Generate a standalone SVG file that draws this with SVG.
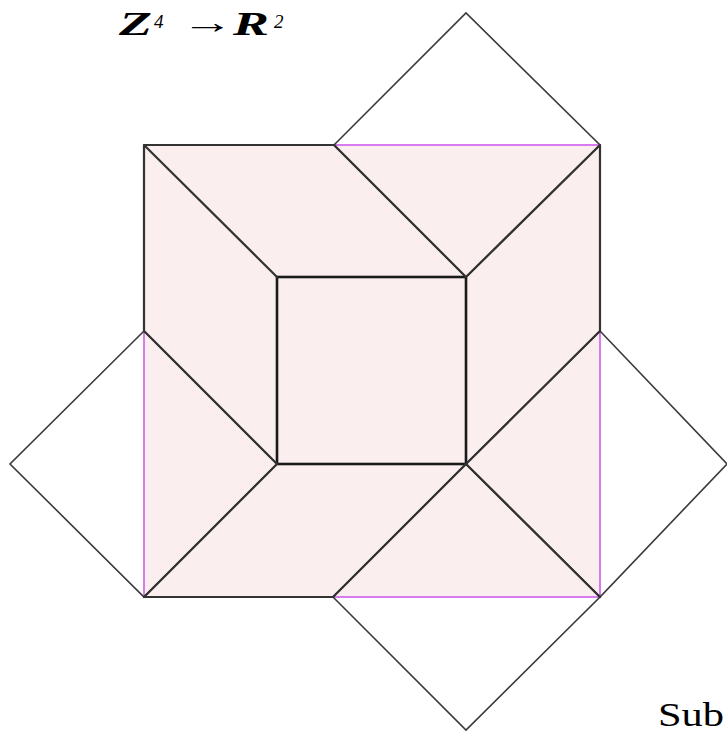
<svg xmlns="http://www.w3.org/2000/svg" width="727" height="733" viewBox="0 0 727 733">
<style>
.win{fill:#FAEEEE;stroke:#D77BEF;stroke-width:2}
.tile{fill:none;stroke:#333;stroke-width:2.2;stroke-linejoin:round;stroke-linecap:round}
.out{fill:none;stroke:#3a3a3a;stroke-width:1.6;stroke-linejoin:miter}
.sq{fill:none;stroke:#1a1a1a;stroke-width:2.6}
.t{font-family:"Liberation Serif","Times New Roman",serif;fill:#000}
</style>
<rect width="727" height="733" fill="#fff"/>
<g id="window">
<rect class="win" x="144" y="145" width="456" height="452"/>
</g>
<g id="diamond-top"><polygon class="out" points="334,145 466,13 600,145 466,277"/></g>
<g id="diamond-right"><polygon class="out" points="600,331 727,464 600,597 466,464"/></g>
<g id="diamond-bottom"><polygon class="out" points="333,597 466,730 600,597 466,464"/></g>
<g id="diamond-left"><polygon class="out" points="144,331 10,464 144,597 277,464"/></g>
<g id="inner-square"><rect class="sq" x="277" y="277" width="189" height="187"/></g>
<g id="connectors">
<path class="tile" d="M144,145 L334,145 M144,145 L144,331 M144,145 L277,277 M334,145 L466,277 M600,145 L466,277 M600,145 L600,331 M600,331 L466,464 M600,597 L466,464 M333,597 L466,464 M144,597 L333,597 M144,597 L277,464 M144,331 L277,464"/>
</g>
<g id="title">
<text class="t" x="119" y="35" font-size="33" font-weight="bold" font-style="italic" textLength="33" lengthAdjust="spacingAndGlyphs">Z</text>
<text class="t" x="154" y="28" font-size="19" font-style="italic">4</text>
<text class="t" x="181" y="33" font-size="32" textLength="52" lengthAdjust="spacingAndGlyphs">→</text>
<text class="t" x="233" y="35" font-size="33" font-weight="bold" font-style="italic" textLength="36" lengthAdjust="spacingAndGlyphs">R</text>
<text class="t" x="274" y="28" font-size="19" font-style="italic">2</text>
</g>
<g id="caption"><text class="t" x="658" y="726" font-size="33" textLength="66" lengthAdjust="spacingAndGlyphs">Sub</text></g>
</svg>
